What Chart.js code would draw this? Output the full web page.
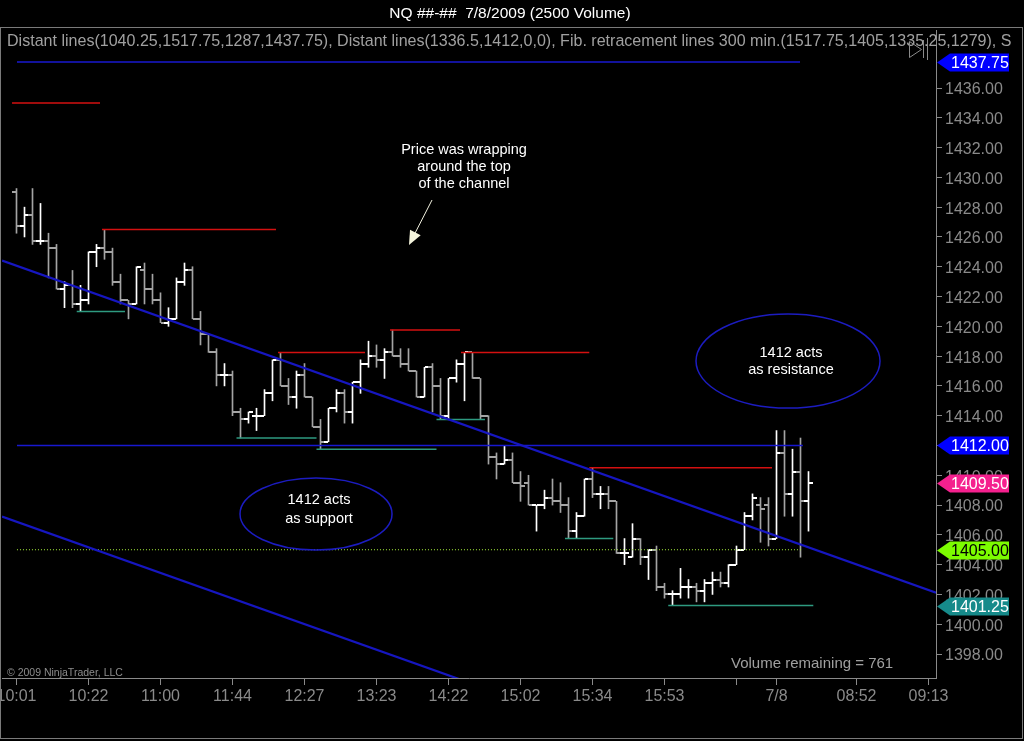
<!DOCTYPE html>
<html><head><meta charset="utf-8">
<script src="https://cdn.jsdelivr.net/npm/chart.js@4.4.0/dist/chart.umd.min.js"></script>
<style>html,body{margin:0;padding:0;background:#000;overflow:hidden}</style>
</head><body>
<canvas id="c" width="1024" height="741"></canvas>
<script>
// ---------- DATA ----------
const opens = [1429.0,1426.75,1427.5,1425.75,1425.75,1425.25,1422.5,1422.75,1421.5,1421.75,
1425.0,1425.25,1425.0,1423.0,1421.75,1421.5,1423.75,1422.5,1421.75,1420.25,
1420.5,1423.0,1423.75,1420.5,1419.5,1418.25,1416.75,1416.75,1414.25,1413.75,
1414.0,1414.0,1415.5,1417.75,1416.0,1415.25,1416.75,1415.25,1413.25,1412.25,
1414.5,1415.5,1414.25,1416.25,1417.5,1418.0,1417.75,1418.25,1418.0,1417.5,
1417.0,1415.25,1417.25,1416.0,1414.0,1416.5,1417.5,1418.25,1416.5,1414.0,
1411.25,1410.75,1411.0,1409.5,1409.5,1408.0,1408.0,1408.5,1408.25,1408.0,
1406.25,1407.25,1409.75,1408.75,1408.75,1408.25,1404.75,1404.5,1405.75,1404.5,
1405.0,1402.5,1402.0,1402.0,1402.5,1402.5,1402.25,1402.75,1403.0,1402.75,
1404.0,1405.0,1407.25,1408.0,1408.0,1405.75,1411.5,1408.75,1410.25,1408.25];
const highs = [1429.25,1428.0,1429.25,1428.25,1426.25,1425.5,1423.0,1423.75,1422.75,1425.0,
1425.5,1426.5,1425.25,1423.5,1421.75,1424.0,1424.25,1423.5,1422.25,1421.25,
1423.25,1424.25,1424.0,1421.0,1419.5,1418.5,1417.5,1417.0,1414.5,1414.25,
1414.5,1415.75,1417.75,1418.25,1416.5,1417.0,1417.5,1415.25,1413.75,1414.5,
1415.75,1415.75,1416.25,1417.75,1419.0,1418.75,1418.5,1419.75,1418.5,1418.5,
1417.0,1417.25,1417.5,1416.5,1416.5,1417.75,1418.25,1418.25,1416.5,1414.0,
1411.5,1412.0,1411.5,1410.25,1410.0,1408.0,1409.0,1409.75,1409.5,1408.5,
1407.5,1409.75,1410.5,1409.25,1409.25,1408.25,1405.75,1406.75,1405.75,1405.0,
1405.25,1402.75,1402.25,1403.75,1403.0,1402.75,1403.0,1403.5,1403.5,1404.0,
1405.25,1407.5,1408.75,1408.5,1408.5,1413.0,1413.0,1411.75,1412.5,1410.25];
const lows = [1426.25,1426.0,1425.5,1425.5,1423.25,1422.5,1421.25,1421.25,1421.0,1421.5,
1424.0,1424.5,1422.75,1421.5,1420.5,1421.5,1421.5,1421.5,1420.25,1420.0,
1420.5,1422.75,1420.5,1418.75,1418.25,1416.0,1416.0,1414.0,1412.5,1413.5,
1413.0,1414.0,1415.0,1416.0,1414.75,1414.5,1415.25,1413.25,1411.75,1412.25,
1414.25,1413.5,1413.5,1415.5,1417.25,1417.25,1416.5,1418.0,1417.25,1417.0,
1415.25,1415.25,1414.25,1413.75,1413.75,1416.25,1415.0,1416.5,1413.75,1410.75,
1409.75,1410.75,1409.5,1408.25,1408.0,1406.25,1407.75,1408.0,1407.5,1405.75,
1405.75,1407.25,1408.5,1407.75,1407.75,1404.75,1404.0,1404.5,1404.0,1403.0,
1402.25,1401.75,1401.25,1401.75,1401.75,1401.5,1401.5,1402.0,1402.5,1402.5,
1404.0,1405.0,1407.0,1405.5,1405.25,1405.75,1407.25,1407.25,1404.5,1406.25];
const closes = [1426.75,1427.5,1425.75,1425.75,1425.25,1422.5,1422.75,1421.5,1421.75,1425.0,
1425.25,1425.0,1423.0,1421.75,1421.5,1424.0,1422.5,1421.75,1420.25,1420.5,
1423.0,1423.75,1420.5,1419.5,1418.25,1416.75,1416.75,1414.25,1413.75,1414.25,
1414.0,1415.5,1417.75,1416.0,1415.25,1416.75,1415.25,1413.25,1412.25,1414.5,
1415.5,1414.25,1416.25,1417.5,1418.0,1417.75,1418.25,1418.0,1417.5,1417.0,
1415.25,1417.25,1416.0,1414.0,1416.5,1417.5,1418.25,1416.5,1414.0,1411.25,
1410.75,1411.0,1409.5,1409.25,1408.0,1408.0,1408.5,1408.25,1408.0,1406.25,
1407.25,1409.75,1408.75,1408.75,1408.25,1404.75,1404.75,1405.75,1404.5,1405.0,
1402.5,1402.0,1402.0,1402.5,1402.5,1402.25,1402.75,1403.0,1402.75,1404.0,
1405.0,1407.25,1408.5,1407.75,1405.75,1411.5,1408.75,1410.25,1408.25,1409.5];

const xTickIndex  = [0, 9, 18, 27, 36, 45, 54, 63, 72, 81, 90, 95, 105, 114];
const xTickLabels = ['10:01','10:22','11:00','11:44','12:27','13:23','14:22','15:02','15:34','15:53','','7/8','08:52','09:13'];
const yTickValues = [1398,1400,1402,1404,1406,1408,1410,1412,1414,1416,1418,1420,1422,1424,1426,1428,1430,1432,1434,1436];

// drawing objects (bar index / price)
const resistancePrice = [1435.0, 1426.5, 1418.25, 1419.75, 1418.25, 1410.5];
const resistanceFrom  = [-0.56, 10.69, 32.69, 46.69, 55.56, 71.6];
const resistanceTo    = [10.44, 32.44, 43.56, 55.44, 71.6, 94.44];
const supportPrice = [1421.0, 1412.5, 1411.75, 1413.75, 1405.75, 1401.25];
const supportFrom  = [7.53, 27.5, 37.5, 52.5, 68.56, 81.47];
const supportTo    = [13.56, 37.5, 52.5, 58.56, 74.6, 99.6];
const blueLevels = [1437.75, 1412.0];
const blueFrom   = [0.06, 0.06];
const blueTo     = [97.94, 98.3];
const greenLevel = 1405.0, greenFrom = 0.06, greenTo = 98.3;
const channelUpper = [{x:-1.81, y:1424.41}, {x:114.94, y:1402.12}];
const channelLower = [{x:-1.81, y:1407.23}, {x:114.94, y:1384.93}];
const priceMarkers = [1437.75, 1412.00, 1409.50, 1405.00, 1401.25];

// ---------- STYLE ----------
const FONT = '"Liberation Sans", Arial, Helvetica, sans-serif';
const AXIS = '#8a8a8a';
const UP = '#ffffff', DOWN = '#a4a4a4';
const markerBg = ['#0000ff', '#0000ff', '#f5208e', '#7cfc00', '#168a8a'];
const markerFg = ['#ffffff', '#ffffff', '#ffffff', '#000000', '#ffffff'];
const xMin = -1.8125, xMax = 114.9375, yMin = 1396.389, yMax = 1439.894;

const idx = opens.map((_, i) => i);
const barColors = idx.map(i => closes[i] >= opens[i] ? UP : DOWN);

function tickImg(color, left) {
  const c = document.createElement('canvas'); c.width = 9; c.height = 2;
  const g = c.getContext('2d'); g.fillStyle = color;
  g.fillRect(left ? 0 : 5, 0, 4, 2);
  return c;
}
const imgs = {UL: tickImg(UP, true), UR: tickImg(UP, false), DL: tickImg(DOWN, true), DR: tickImg(DOWN, false)};

function seg(from, to, price, color, width, dash) {
  return {type:'line', data:[{x:from, y:price},{x:to, y:price}], borderColor:color, borderWidth:width,
    borderDash: dash || [], pointRadius:0, tension:0, fill:false};
}

const datasets = [];
datasets.push({type:'line', data: channelUpper, borderColor:'#1616c0', borderWidth:2.2, pointRadius:0, fill:false});
datasets.push({type:'line', data: channelLower, borderColor:'#1616c0', borderWidth:2.2, pointRadius:0, fill:false});
resistancePrice.forEach((p, k) => datasets.push(seg(resistanceFrom[k], resistanceTo[k], p, '#d41010', 1.5)));
supportPrice.forEach((p, k) => datasets.push(seg(supportFrom[k], supportTo[k], p, '#2e9a80', 1.5)));
blueLevels.forEach((p, k) => datasets.push(seg(blueFrom[k], blueTo[k], p, '#1818d0', 1.5)));
datasets.push(seg(greenFrom, greenTo, greenLevel, '#a6f03a', 1, [1, 2]));
datasets.push({type:'line', showLine:false, data: idx.map(i => ({x:i, y:opens[i]})),
  pointStyle: idx.map(i => barColors[i] === UP ? imgs.UL : imgs.DL), pointRadius:3, pointHoverRadius:3});
datasets.push({type:'line', showLine:false, data: idx.map(i => ({x:i, y:closes[i]})),
  pointStyle: idx.map(i => barColors[i] === UP ? imgs.UR : imgs.DR), pointRadius:3, pointHoverRadius:3});
datasets.push({type:'bar', data: idx.map(i => ({x:i, y:[lows[i], highs[i]]})), backgroundColor: barColors,
  barThickness:1, borderWidth:0, borderSkipped:false});

// annotations (bar index / price)
const notes = {
  ellipses: [{x:37.44, y:1407.40, rx:9.5, ry:2.42}, {x:96.44, y:1417.67, rx:11.5, ry:3.16}],
  texts: [
    {x:37.81, y:1407.70, lines:['1412 acts','as support'], gap:19},
    {x:96.81, y:1417.66, lines:['1412 acts','as resistance'], gap:17},
    {x:55.94, y:1430.70, lines:['Price was wrapping','around the top','of the channel'], gap:17}
  ],
  arrow: {x1:51.94, y1:1428.48, x2:49.06, y2:1425.46}
};

const overlay = {
  id: 'overlay',
  beforeDraw(chart) {
    const c = chart.ctx; c.save(); c.fillStyle = '#000'; c.fillRect(0, 0, chart.width, chart.height); c.restore();
  },
  afterDatasetsDraw(chart) {
    const c = chart.ctx, xs = chart.scales.x, ys = chart.scales.y;
    c.save();
    c.strokeStyle = '#1c1cc0'; c.lineWidth = 1.5;
    notes.ellipses.forEach(e => {
      const cx = xs.getPixelForValue(e.x), cy = ys.getPixelForValue(e.y);
      const rx = xs.getPixelForValue(e.x + e.rx) - cx, ry = cy - ys.getPixelForValue(e.y + e.ry);
      c.beginPath(); c.ellipse(cx, cy, rx, ry, 0, 0, Math.PI * 2); c.stroke();
    });
    c.fillStyle = '#ffffff'; c.font = '14.5px ' + FONT; c.textAlign = 'center'; c.textBaseline = 'middle';
    notes.texts.forEach(t => {
      const cx = xs.getPixelForValue(t.x), cy = ys.getPixelForValue(t.y);
      const n = t.lines.length;
      t.lines.forEach((s, k) => c.fillText(s, cx, cy + (k - (n - 1) / 2) * t.gap));
    });
    const a = notes.arrow;
    const x1 = xs.getPixelForValue(a.x1), y1 = ys.getPixelForValue(a.y1);
    const x2 = xs.getPixelForValue(a.x2), y2 = ys.getPixelForValue(a.y2);
    const ang = Math.atan2(y2 - y1, x2 - x1);
    c.strokeStyle = '#f2f2e0'; c.lineWidth = 1;
    c.beginPath(); c.moveTo(x1, y1); c.lineTo(x2 - 12 * Math.cos(ang), y2 - 12 * Math.sin(ang)); c.stroke();
    c.fillStyle = '#f4f4dc';
    c.beginPath(); c.moveTo(x2, y2);
    c.lineTo(x2 - 14 * Math.cos(ang) + 6 * Math.sin(ang), y2 - 14 * Math.sin(ang) - 6 * Math.cos(ang));
    c.lineTo(x2 - 14 * Math.cos(ang) - 6 * Math.sin(ang), y2 - 14 * Math.sin(ang) + 6 * Math.cos(ang));
    c.closePath(); c.fill();
    c.restore();
  },
  afterDraw(chart) {
    const c = chart.ctx, ys = chart.scales.y, area = chart.chartArea;
    c.save();
    // price markers
    priceMarkers.forEach((v, k) => {
      const y = Math.round(ys.getPixelForValue(v)) + 0.5;
      const x0 = area.right + 1;
      c.fillStyle = markerBg[k];
      c.beginPath(); c.moveTo(x0, y); c.lineTo(x0 + 13, y - 9); c.lineTo(1009, y - 9); c.lineTo(1009, y + 9);
      c.lineTo(x0 + 13, y + 9); c.closePath(); c.fill();
      c.fillStyle = markerFg[k]; c.font = '16px ' + FONT; c.textAlign = 'left'; c.textBaseline = 'middle';
      c.fillText(v.toFixed(2), x0 + 14, y + 1);
    });
    // frame
    c.strokeStyle = '#7a7a7a'; c.lineWidth = 1;
    c.strokeRect(0.5, 27.5, 1022, 711);
    // title
    c.fillStyle = '#ffffff'; c.font = '15.5px ' + FONT; c.textAlign = 'center'; c.textBaseline = 'middle';
    c.fillText('NQ ##-##  7/8/2009 (2500 Volume)', 510, 14);
    // info line
    const info = 'Distant lines(1040.25,1517.75,1287,1437.75), Distant lines(1336.5,1412,0,0), Fib. retracement lines 300 min.(1517.75,1405,1335.25,1279),';
    c.font = '15px ' + FONT;
    const fs = 15 * 990 / c.measureText(info).width;
    c.font = fs.toFixed(2) + 'px ' + FONT;
    c.save(); c.beginPath(); c.rect(2, 28, 1019, 28); c.clip();
    c.fillStyle = '#a0a0a0'; c.textAlign = 'left';
    c.fillText(info + ' S', 7, 42);
    c.restore();
    // small toolbar icons
    c.strokeStyle = '#8a8a8a'; c.lineWidth = 1;
    c.beginPath(); c.moveTo(909.5, 41.5); c.lineTo(921.5, 49.5); c.lineTo(909.5, 57.5); c.closePath(); c.stroke();
    c.beginPath(); c.moveTo(923.5, 40); c.lineTo(923.5, 58); c.moveTo(927.5, 38); c.lineTo(927.5, 60); c.stroke();
    // footer texts
    c.fillStyle = '#8c8c8c'; c.font = '10.5px ' + FONT; c.textAlign = 'left';
    c.fillText('\u00a9 2009 NinjaTrader, LLC', 7, 673);
    c.fillStyle = '#a0a0a0'; c.font = '15px ' + FONT;
    c.fillText('Volume remaining = 761', 731, 664);
    c.restore();
  }
};

new Chart(document.getElementById('c'), {
  type: 'bar',
  data: { datasets },
  options: {
    responsive: false, animation: false, devicePixelRatio: 1,
    layout: { padding: {top: 30, left: 2, right: 0, bottom: 0}, autoPadding: false },
    plugins: { legend: {display: false}, tooltip: {enabled: false} },
    events: [],
    scales: {
      x: {
        type: 'linear', min: xMin, max: xMax, offset: false, position: 'bottom',
        grid: {display: true, drawOnChartArea: false, drawTicks: true, tickLength: 7, color: AXIS, offset: false},
        border: {display: true, color: AXIS},
        ticks: {autoSkip: false, maxRotation: 0, minRotation: 0, color: AXIS, padding: 2,
          font: {size: 16, family: FONT}, callback: (v, i) => xTickLabels[i]},
        afterBuildTicks: s => { s.ticks = xTickIndex.map(v => ({value: v})); },
        afterFit: s => { s.height = 63; s.paddingLeft = 0; s.paddingRight = 0; }
      },
      y: {
        type: 'linear', position: 'right', min: yMin, max: yMax,
        grid: {display: true, drawOnChartArea: false, drawTicks: true, tickLength: 6, color: AXIS},
        border: {display: true, color: AXIS},
        ticks: {color: AXIS, padding: 3, labelOffset: 2, font: {size: 16, family: FONT}, callback: v => Number(v).toFixed(2)},
        afterBuildTicks: s => { s.ticks = yTickValues.map(v => ({value: v})); },
        afterFit: s => { s.width = 88; s.paddingTop = 0; s.paddingBottom = 0; }
      }
    }
  },
  plugins: [overlay]
});
</script>
</body></html>
